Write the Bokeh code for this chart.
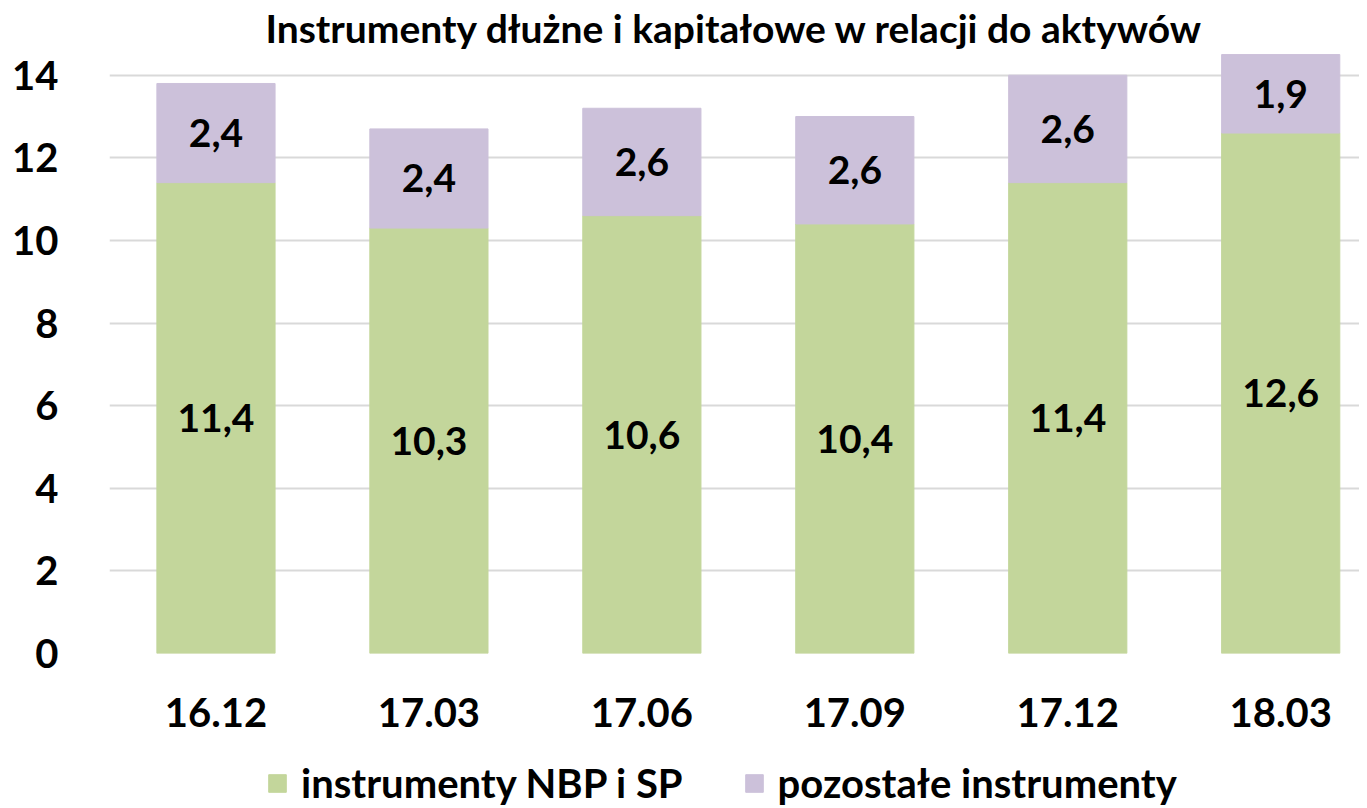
from bokeh.plotting import figure
from bokeh.layouts import column
from bokeh.models import ColumnDataSource, FixedTicker, Legend, LegendItem, Range1d
from bokeh.core.properties import value
from bokeh.embed import file_html
from bokeh.resources import INLINE

categories = ["16.12", "17.03", "17.06", "17.09", "17.12", "18.03"]
nbp_sp = [11.4, 10.3, 10.6, 10.4, 11.4, 12.6]
pozostale = [2.4, 2.4, 2.6, 2.6, 2.6, 1.9]
y_ticks = [0, 2, 4, 6, 8, 10, 12, 14]
title_text = "Instrumenty dłużne i kapitałowe w relacji do aktywów"
series_names = ["instrumenty NBP i SP", "pozostałe instrumenty"]

GREEN = "#c3d69b"
PURPLE = "#ccc1da"
FONT = "Lato"
FS = "40px"

xs = list(range(len(categories)))
tops = [a + b for a, b in zip(nbp_sp, pozostale)]
src = ColumnDataSource(dict(
    x=xs,
    g=nbp_sp,
    p=pozostale,
    top=tops,
    gmid=[v / 2 for v in nbp_sp],
    pmid=[a + b / 2 for a, b in zip(nbp_sp, pozostale)],
    glab=[f"{v:.1f}".replace(".", ",") for v in nbp_sp],
    plab=[f"{v:.1f}".replace(".", ",") for v in pozostale],
))

p = figure(frame_width=1250, frame_height=601, output_backend="svg", toolbar_location=None,
           x_range=Range1d(-0.5, 5.37), y_range=Range1d(0, 14.55),
           min_border_left=109, min_border_right=0, min_border_top=0, min_border_bottom=90)
p.title.text = title_text
p.title.align = "center"
p.title.text_font = FONT
p.title.text_font_style = "bold"
p.title.text_font_size = "39px"
p.title.text_color = "#000000"
p.title.standoff = 4
p.title.offset = -50

p.vbar(x="x", bottom=0, top="g", width=0.555, color=GREEN, source=src)
p.vbar(x="x", bottom="g", top="top", width=0.555, color=PURPLE, source=src)

for ycol, lcol in (("gmid", "glab"), ("pmid", "plab")):
    p.text(x="x", y=ycol, text=lcol, source=src, text_align="center", text_baseline="middle",
           text_font=value(FONT), text_font_style="bold", text_font_size="39px", text_color="#000000")

p.xgrid.visible = False
p.ygrid.grid_line_color = "#d9d9d9"
p.ygrid.grid_line_width = 2
p.ygrid.ticker = FixedTicker(ticks=y_ticks)
p.outline_line_color = None

p.yaxis.ticker = FixedTicker(ticks=y_ticks)
p.xaxis.ticker = FixedTicker(ticks=xs)
p.xaxis.major_label_overrides = {i: c for i, c in enumerate(categories)}
for ax in (p.xaxis, p.yaxis):
    ax.axis_line_color = None
    ax.major_tick_line_color = None
    ax.minor_tick_line_color = None
    ax.major_label_text_font = FONT
    ax.major_label_text_font_style = "bold"
    ax.major_label_text_font_size = FS
    ax.major_label_text_color = "#000000"
p.yaxis.major_label_standoff = 45
p.xaxis.major_label_standoff = 38

# legend strip (swatch renderers sit outside the visible range; only their legend entries show)
lg = figure(width=1359, height=64, output_backend="svg", toolbar_location=None,
            x_range=Range1d(0, 1), y_range=Range1d(0, 1),
            min_border_left=0, min_border_right=0, min_border_top=0, min_border_bottom=0)
lg.axis.visible = False
lg.grid.visible = False
lg.outline_line_color = None
swatch = ColumnDataSource(dict(l=[5], r=[6], b=[5], t=[6]))
g1 = lg.quad(left="l", right="r", bottom="b", top="t", color=GREEN, source=swatch)
g2 = lg.quad(left="l", right="r", bottom="b", top="t", color=PURPLE, source=swatch)
legend = Legend(items=[LegendItem(label=series_names[0], renderers=[g1]),
                       LegendItem(label=series_names[1], renderers=[g2])],
                orientation="horizontal", location=(157, 0),
                label_text_font=FONT, label_text_font_style="bold", label_text_font_size=FS,
                label_text_color="#000000", label_height=22,
                glyph_width=22, glyph_height=22, spacing=60, label_standoff=13,
                border_line_color=None, background_fill_alpha=0, margin=0, padding=0)
lg.add_layout(legend, "center")

layout = column(p, lg, spacing=0)
open("out.html", "w").write(file_html(layout, INLINE))
